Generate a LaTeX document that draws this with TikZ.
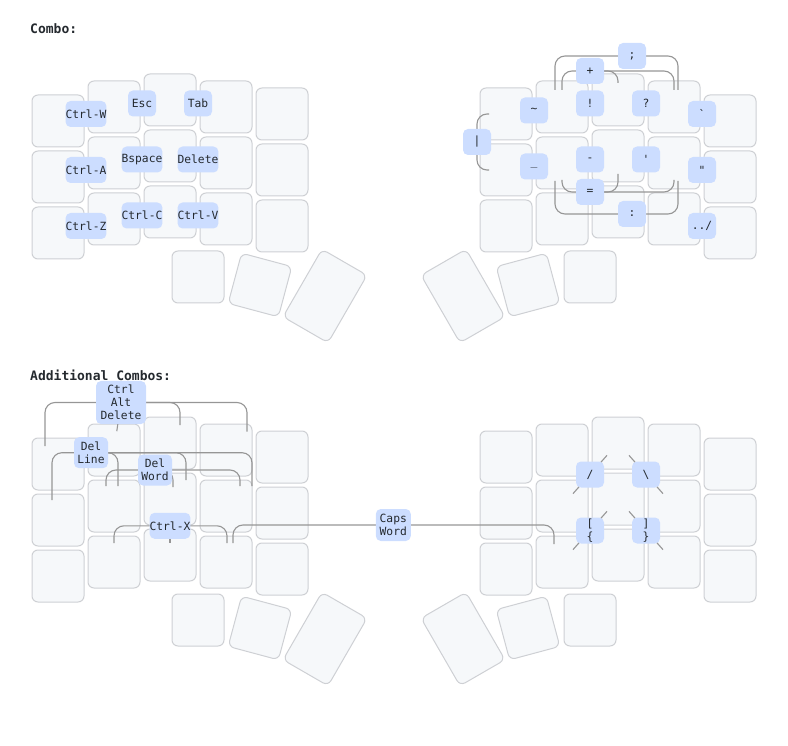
\documentclass[tikz,border=0pt]{standalone}
\usepackage{fontspec}
\newfontfamily\keyfont{DejaVu Sans Mono}
\definecolor{keyFill}{RGB}{246, 248, 250}
\definecolor{keyEdge}{RGB}{206, 208, 212}
\definecolor{comboBlue}{RGB}{204, 221, 255}
\definecolor{dendGray}{RGB}{150, 150, 150}
\definecolor{inkGray}{RGB}{36, 41, 46}
\usetikzlibrary{positioning, calc}

\begin{document}
\begin{tikzpicture}[
    x=1pt, y=-1pt,
    keycap/.style={rectangle, draw=keyEdge, fill=keyFill, line width=1pt,
                   minimum width=52pt, minimum height=52pt,
                   rounded corners=6pt, inner sep=0pt},
    combo/.style={rectangle, fill=comboBlue, rounded corners=5pt,
                  minimum width=28pt, minimum height=26pt, inner sep=0pt,
                  align=center, text=inkGray,
                  font=\keyfont\fontsize{11.3}{13}\selectfont},
    dend/.style={draw=dendGray, line width=1.1pt, rounded corners=10pt},
    tick/.style={draw=dendGray, line width=1.1pt, shorten >=16.5pt},
    title/.style={anchor=base west, inner sep=0pt, text=inkGray,
                  font=\keyfont\bfseries\fontsize{13}{15}\selectfont},
  ]
    \useasboundingbox (0,0) rectangle (788,746);

    % Combo: key halves
    \foreach \c/\kx/\ky in {0/58/121, 1/114/107, 2/170/100, 3/226/107, 4/282/114}
      \foreach \r in {0,1,2}
        \node[keycap] (TL\c\r) at (\kx, \ky+56*\r) {};
    \foreach \c/\kx/\ky in {0/506/114, 1/562/107, 2/618/100, 3/674/107, 4/730/121}
      \foreach \r in {0,1,2}
        \node[keycap] (TR\c\r) at (\kx, \ky+56*\r) {};
    \node[keycap] (TLt0) at (198,277) {};
    \node[keycap, rotate=-15] (TLt1) at (260,285) {};
    \node[keycap, rotate=-30, minimum height=78pt] (TLt2) at (325,296) {};
    \node[keycap] (TRt0) at (590,277) {};
    \node[keycap, rotate=15] (TRt1) at (528,285) {};
    \node[keycap, rotate=30, minimum height=78pt] (TRt2) at (463,296) {};

    % Additional Combos: key halves
    \foreach \c/\kx/\ky in {0/58/464, 1/114/450, 2/170/443, 3/226/450, 4/282/457}
      \foreach \r in {0,1,2}
        \node[keycap] (BL\c\r) at (\kx, \ky+56*\r) {};
    \foreach \c/\kx/\ky in {0/506/457, 1/562/450, 2/618/443, 3/674/450, 4/730/464}
      \foreach \r in {0,1,2}
        \node[keycap] (BR\c\r) at (\kx, \ky+56*\r) {};
    \node[keycap] (BLt0) at (198,620) {};
    \node[keycap, rotate=-15] (BLt1) at (260,628) {};
    \node[keycap, rotate=-30, minimum height=78pt] (BLt2) at (325,639) {};
    \node[keycap] (BRt0) at (590,620) {};
    \node[keycap, rotate=15] (BRt1) at (528,628) {};
    \node[keycap, rotate=30, minimum height=78pt] (BRt2) at (463,639) {};

    \node[title] (comboTitle) at (30,34) {Combo:};
    \node[title] (extraTitle) at (30,381) {Additional Combos:};

    % combo anchors
    \coordinate (cSemi) at (632,56);
    \coordinate (cPlus) at (590,71);
    \coordinate (cEq) at (590,192);
    \coordinate (cColon) at (632,214);
    \coordinate (cBar) at (477,142);
    \coordinate (cCAD) at (121,402.5);
    \coordinate (cDelLine) at (91,452.7);
    \coordinate (cDelWord) at (155,470);
    \coordinate (cCut) at (170,525.8);
    \coordinate (cCaps) at (393.3,525);
    \coordinate (cSlash) at ($(BR10)!0.5!(BR21)$);
    \coordinate (cBack) at ($(BR20)!0.5!(BR31)$);
    \coordinate (cOpen) at ($(BR11)!0.5!(BR22)$);
    \coordinate (cClose) at ($(BR21)!0.5!(BR32)$);

    % dendrons
    \draw[dend] (cSemi) -| ($(TR10)+(-7,-17)$);
    \draw[dend] (cSemi) -| ($(TR30)+(4,-17)$);
    \draw[dend] (cPlus) -| ($(TR10)+(0,-17)$);
    \draw[dend] (cPlus) -| ($(TR20)+(0,-17)$);
    \draw[dend] (cPlus) -| ($(TR30)+(0,-17)$);
    \draw[dend] (cEq) -| ($(TR11)+(0,17)$);
    \draw[dend] (cEq) -| ($(TR21)+(0,18)$);
    \draw[dend] (cEq) -| ($(TR31)+(0,17)$);
    \draw[dend] (cColon) -| ($(TR11)+(-7,18)$);
    \draw[dend] (cColon) -| ($(TR31)+(4,18)$);
    \draw[dend] (cBar) |- ($(TR00)+(-17,0)$);
    \draw[dend] (cBar) |- ($(TR01)+(-17,0)$);

    \draw[dend] (cCAD) -| ($(BL00)+(-13,-18)$);
    \draw[dend] (cCAD) -- ($(BL10)!19pt!(cCAD)$);
    \draw[dend] (cCAD) -| ($(BL20)+(10,-18)$);
    \draw[dend] (cCAD) -| ($(BL30)+(21,-18.5)$);
    \draw[dend] (cDelLine) -| ($(BL01)+(-6,-20)$);
    \draw[dend] (cDelLine) -| ($(BL11)+(4,-20)$);
    \draw[dend] (cDelLine) -| ($(BL21)+(16,-19)$);
    \draw[dend] (cDelLine) -| ($(BL31)+(26,-20)$);
    \draw[dend] (cDelWord) -| ($(BL11)+(-8,-20)$);
    \draw[dend] (cDelWord) -| ($(BL21)+(3,-12)$);
    \draw[dend] (cDelWord) -| ($(BL31)+(14,-20)$);
    \draw[dend] (cCut) -| ($(BL12)+(0,-19)$);
    \draw[dend] (cCut) -- ($(BL22)+(0,-12)$);
    \draw[dend] (cCut) -| ($(BL32)+(1,-19)$);
    \draw[dend] (cCaps) -| ($(BL32)+(7,-19)$);
    \draw[dend] (cCaps) -| ($(BR12)+(-8,-18)$);

    \foreach \k in {BR20, BR11} \draw[tick] (cSlash) -- (\k.center);
    \foreach \k in {BR20, BR31} \draw[tick] (cBack) -- (\k.center);
    \foreach \k in {BR21, BR12} \draw[tick] (cOpen) -- (\k.center);
    \foreach \k in {BR21, BR32} \draw[tick] (cClose) -- (\k.center);

    % Combo: left half
    \node[combo, minimum width=40pt] (ctrlW) at ($(TL00)!0.5!(TL10)$) {Ctrl-W};
    \node[combo] (esc) at ($(TL10)!0.5!(TL20)$) {Esc};
    \node[combo] (tab) at ($(TL20)!0.5!(TL30)$) {Tab};
    \node[combo, minimum width=40pt] (ctrlA) at ($(TL01)!0.5!(TL11)$) {Ctrl-A};
    \node[combo, minimum width=40pt] (bspace) at ($(TL11)!0.5!(TL21)$) {Bspace};
    \node[combo, minimum width=40pt] (delete) at ($(TL21)!0.5!(TL31)$) {Delete};
    \node[combo, minimum width=40pt] (ctrlZ) at ($(TL02)!0.5!(TL12)$) {Ctrl-Z};
    \node[combo, minimum width=40pt] (ctrlC) at ($(TL12)!0.5!(TL22)$) {Ctrl-C};
    \node[combo, minimum width=40pt] (ctrlV) at ($(TL22)!0.5!(TL32)$) {Ctrl-V};

    % Combo: right half
    \node[combo] (semi) at (cSemi) {;};
    \node[combo] (plus) at (cPlus) {+};
    \node[combo] (eq) at (cEq) {=};
    \node[combo] (colon) at (cColon) {:};
    \node[combo] (bar) at (cBar) {\textbar};
    \node[combo] (tilde) at ($(TR00)!0.5!(TR10)$) {\textasciitilde};
    \node[combo] (bang) at ($(TR10)!0.5!(TR20)$) {!};
    \node[combo] (quest) at ($(TR20)!0.5!(TR30)$) {?};
    \node[combo] (grave) at ($(TR30)!0.5!(TR40)$) {\textasciigrave};
    \node[combo] (under) at ($(TR01)!0.5!(TR11)$) {\textunderscore};
    \node[combo] (minus) at ($(TR11)!0.5!(TR21)$) {-};
    \node[combo] (apos) at ($(TR21)!0.5!(TR31)$) {\textquotesingle};
    \node[combo] (dquote) at ($(TR31)!0.5!(TR41)$) {\textquotedbl};
    \node[combo] (updir) at ($(TR32)!0.5!(TR42)$) {../};

    % Additional Combos
    \node[combo, minimum width=50pt, minimum height=43pt] (cad) at (cCAD) {Ctrl\\Alt\\Delete};
    \node[combo, minimum width=34pt, minimum height=31pt] (delLine) at (cDelLine) {Del\\Line};
    \node[combo, minimum width=34pt, minimum height=31pt] (delWord) at (cDelWord) {Del\\Word};
    \node[combo, minimum width=40pt] (ctrlX) at (cCut) {Ctrl-X};
    \node[combo, minimum width=35pt, minimum height=32pt] (caps) at (cCaps) {Caps\\Word};
    \node[combo] (slash) at (cSlash) {/};
    \node[combo] (bslash) at (cBack) {\textbackslash};
    \node[combo] (open) at (cOpen) {[\\\{};
    \node[combo] (close) at (cClose) {]\\\}};
  \end{tikzpicture}
\end{document}
